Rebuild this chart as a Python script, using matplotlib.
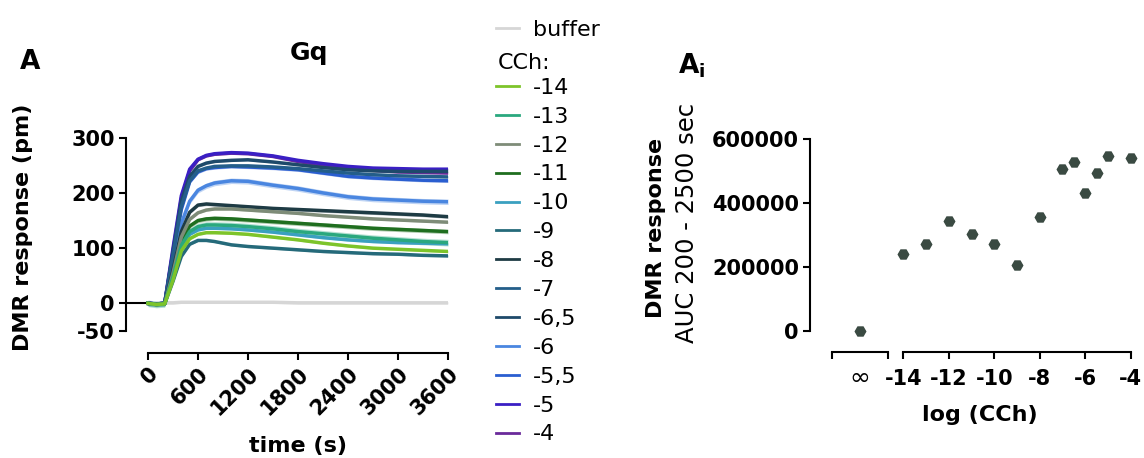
import matplotlib
matplotlib.use("Agg")
import matplotlib.pyplot as plt
from matplotlib.lines import Line2D

# time course (s) and DMR response (pm)
time_s = [0, 100, 200, 300, 400, 500, 600, 700, 800, 1000, 1200, 1500, 1800, 2100, 2400, 2700, 3000, 3300, 3600]

labels = ["-14", "-13", "-12", "-11", "-10", "-9", "-8", "-7", "-6,5", "-6", "-5,5", "-5", "-4"]
colors = ["#7dc42a", "#2aa87e", "#7e8c78", "#1f6e1f", "#3aa0c0", "#256a7a", "#1e3b44",
          "#245e8a", "#1e4a6a", "#4a86e0", "#2a5ed0", "#3a1fc4", "#6a2a9a"]

resp_m14 = [0, -2, -1, 42, 95, 117, 125, 128, 128, 127, 125, 120, 115, 109, 104, 100, 98, 96, 94]
resp_m13 = [0, -2, -1, 48, 105, 130, 139, 142, 142, 141, 139, 135, 130, 126, 122, 118, 115, 112, 110]
resp_m12 = [0, -2, -1, 55, 120, 152, 164, 169, 171, 171, 169, 166, 163, 159, 156, 153, 151, 149, 147]
resp_m11 = [0, -2, -1, 50, 112, 140, 150, 153, 154, 153, 151, 148, 145, 142, 139, 136, 134, 132, 130]
resp_m10 = [0, -2, -1, 45, 100, 125, 133, 136, 136, 135, 133, 129, 124, 119, 115, 112, 110, 109, 108]
resp_m9 = [0, -2, -1, 40, 85, 107, 114, 114, 112, 106, 103, 100, 97, 94, 92, 90, 89, 87, 86]
resp_m8 = [0, -1, 0, 60, 130, 165, 178, 180, 179, 177, 175, 172, 170, 168, 166, 164, 162, 160, 157]
resp_m7 = [0, -1, 0, 88, 175, 222, 240, 245, 248, 249, 249, 247, 244, 240, 236, 233, 231, 230, 229]
resp_m65 = [0, -1, 0, 92, 185, 230, 248, 254, 257, 259, 260, 256, 251, 246, 242, 240, 239, 239, 239]
resp_m6 = [0, -1, 0, 70, 145, 185, 205, 213, 218, 222, 221, 214, 208, 200, 193, 189, 187, 185, 184]
resp_m55 = [0, -1, 0, 85, 170, 220, 238, 244, 246, 248, 247, 245, 242, 236, 230, 227, 225, 223, 222]
resp_m5 = [0, -1, 0, 100, 195, 243, 261, 268, 271, 273, 272, 267, 259, 253, 248, 245, 244, 243, 243]
resp_m4 = [0, -1, 0, 95, 190, 240, 260, 267, 270, 272, 271, 266, 257, 250, 245, 241, 238, 237, 236]
resp_buffer = [0, 0, 1, 1, 2, 2, 2, 2, 2, 2, 2, 2, 1, 1, 1, 1, 1, 1, 1]

responses = [resp_m14, resp_m13, resp_m12, resp_m11, resp_m10, resp_m9, resp_m8,
             resp_m7, resp_m65, resp_m6, resp_m55, resp_m5, resp_m4]
sem = [2, 6, 2, 4, 2, 2, 3, 2, 2, 5, 3, 2, 2]
sem_buffer = 2

# panel Ai: AUC 200-2500 s vs log(CCh)
log_cch = [-14, -13, -12, -11, -10, -9, -8, -7, -6.5, -6, -5.5, -5, -4]
auc = [240200, 270500, 344100, 302600, 270500, 205900, 356700, 505400, 526200, 430600, 494000, 546000, 538700]
auc_buffer = 0

W, H = 1144, 458
plt.rcParams['font.family'] = ['DejaVu Sans']
plt.rcParams['axes.unicode_minus'] = False
fig = plt.figure(figsize=(W / 100, H / 100), dpi=100)


def frac(x0, y0, x1, y1):
    return [x0 / W, 1 - y1 / H, (x1 - x0) / W, (y1 - y0) / H]


def style_ticks(ax):
    ax.tick_params(width=1.5, length=5, labelsize=15, pad=3)
    for lab in ax.get_xticklabels() + ax.get_yticklabels():
        lab.set_fontweight('bold')


# ---------------- panel A ----------------
ax = fig.add_axes(frac(126, 137.7, 448, 331))
ax.set_xlim(-264, 3600)
ax.set_ylim(-50, 300)

ax.axhline(0, xmax=(0 - ax.get_xlim()[0]) / (ax.get_xlim()[1] - ax.get_xlim()[0]), color='black', lw=1.5)

low = [v - sem_buffer for v in resp_buffer]
high = [v + sem_buffer for v in resp_buffer]
ax.fill_between(time_s, low, high, color='#d6d6d6', alpha=0.6, lw=0)
ax.plot(time_s, resp_buffer, color='#d6d6d6', lw=2.5)

handles = [Line2D([], [], color='#d6d6d6', lw=2)]
for vals, s, c in reversed(list(zip(responses, sem, colors))):
    ax.fill_between(time_s, [v - s for v in vals], [v + s for v in vals], color=c, alpha=0.35, lw=0)
    ax.plot(time_s, vals, color=c, lw=2.5)
handles += [Line2D([], [], color=c, lw=2) for c in colors]

for side in ['top', 'right']:
    ax.spines[side].set_visible(False)
for side in ['left', 'bottom']:
    ax.spines[side].set_linewidth(1.5)
ax.spines['bottom'].set_position(('outward', 15.5))
ax.spines['bottom'].set_bounds(0, 3600)
ax.set_xticks(range(0, 3601, 600))
ax.set_yticks([-50, 0, 100, 200, 300])
style_ticks(ax)
for lab in ax.get_xticklabels():
    lab.set_rotation(45)
    lab.set_ha('right')
    lab.set_va('top')
    lab.set_rotation_mode('anchor')
ax.set_xlabel('time (s)', fontsize=16, fontweight='bold', va='center')
ax.xaxis.set_label_coords((298 - 126) / 322, (331 - 446) / 193.3)
ax.set_ylabel('DMR response (pm)', fontsize=16, fontweight='bold', va='center')
ax.yaxis.set_label_coords((23 - 126) / 322, (331 - 227) / 193.3)

fig.text(20 / W, 1 - 69 / H, 'A', fontsize=19, fontweight='bold', va='baseline')
fig.text(309 / W, 1 - 53 / H, 'Gq', fontsize=18, fontweight='bold', ha='center', va='center')

# legend
leg_handles = [handles[0], Line2D([], [], color='none')] + handles[1:]
leg_labels = ['buffer', ' '] + labels
fig.legend(leg_handles, leg_labels, loc='upper left', bbox_to_anchor=(496 / W, 1 - 20 / H),
           frameon=False, fontsize=16, handlelength=1.05, handletextpad=0.6,
           labelspacing=0.4, borderaxespad=0, borderpad=0)
fig.text(498 / W, 1 - 63 / H, 'CCh:', fontsize=16, va='center')

# ---------------- panel Ai ----------------
ax_inf = fig.add_axes(frac(831.7, 138.7, 887.7, 331))
ax_log = fig.add_axes(frac(903.3, 138.7, 1130.7, 331), sharey=ax_inf)
ax_inf.set_ylim(0, 600000)
ax_inf.set_xlim(-1, 1)
ax_log.set_xlim(-14, -4)

dot = dict(marker='H', ms=7.5, color='#3a4a42', ls='none', clip_on=False)
ax_inf.plot([0], [auc_buffer], **dot)
ax_log.plot(log_cch, auc, **dot)

for a in (ax_inf, ax_log):
    for side in ['top', 'right']:
        a.spines[side].set_visible(False)
    a.spines['bottom'].set_linewidth(1.5)
    a.spines['bottom'].set_position(('outward', 15.3))
ax_inf.spines['left'].set_linewidth(1.5)
ax_inf.spines['left'].set_position(('outward', 15.6))
ax_log.spines['left'].set_visible(False)
ax_log.tick_params(axis='y', left=False, labelleft=False)

ax_inf.set_yticks([0, 200000, 400000, 600000])
ax_inf.set_xticks([-1, 1], labels=['', ''])
ax_inf.set_xticks([0], labels=['∞'], minor=True)
ax_log.set_xticks([-14, -12, -10, -8, -6, -4])
style_ticks(ax_inf)
style_ticks(ax_log)
ax_log.tick_params(axis='x', pad=7)
ax_inf.tick_params(axis='x', which='minor', length=0, labelsize=18, pad=10)

ax_log.set_xlabel('log (CCh)', fontsize=16, fontweight='bold', va='center')
ax_log.xaxis.set_label_coords((980 - 903.3) / (1130.7 - 903.3), (331 - 415) / 192.3)

fig.text(656 / W, 1 - 228 / H, 'DMR response', rotation=90, fontsize=16, fontweight='bold',
         ha='center', va='center')
fig.text(687 / W, 1 - 223 / H, 'AUC 200 - 2500 sec', rotation=90, fontsize=17.5,
         ha='center', va='center')
fig.text(678 / W, 1 - 73 / H, r'A$_\mathbf{i}$', fontsize=19, fontweight='bold', va='baseline')

fig.savefig('out.png', dpi=100)
